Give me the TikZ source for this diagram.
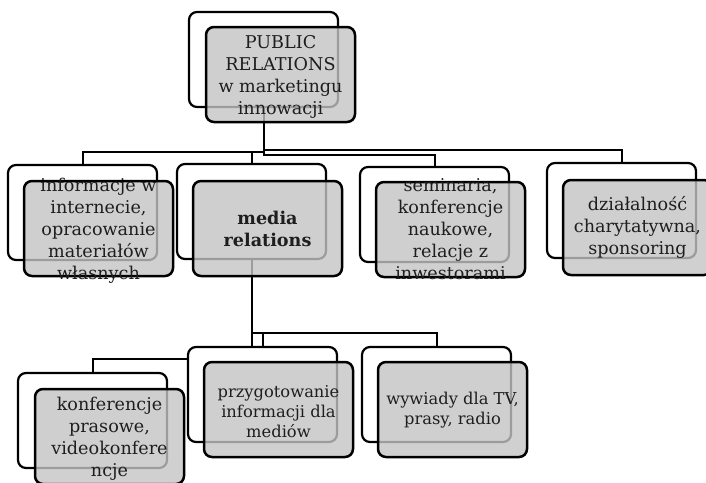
\documentclass[tikz,border=0pt]{standalone}
\usepackage{fontspec}
\setmainfont{DejaVu Serif}
\usetikzlibrary{calc}
\begin{document}
\begin{tikzpicture}[x=1pt,y=-1pt,
  conn/.style={draw=black,line width=2pt},
  backbox/.style={draw=black,line width=2.2pt,fill=white,rounded corners=8pt,minimum width=149pt,minimum height=95pt,inner sep=0pt},
  frontbox/.style={draw=black,line width=2.5pt,fill={rgb,255:red,196;green,196;blue,196},fill opacity=0.8,draw opacity=1,rounded corners=8pt,minimum width=149pt,minimum height=95pt,inner sep=0pt},
  lbl/.style={align=center,inner sep=0pt,text={rgb,255:red,30;green,30;blue,30},font=\fontsize{17.6}{22}\selectfont},
  lbls/.style={align=center,inner sep=0pt,text={rgb,255:red,30;green,30;blue,30},font=\fontsize{16.3}{20}\selectfont}]
\useasboundingbox (0,0) rectangle (706,482);
% coordinates for connector levels
\coordinate (ya) at (0,150);
\coordinate (yb) at (0,152);
\coordinate (yc) at (0,155);
\coordinate (yd) at (0,333);
\coordinate (ye) at (0,359);
% back boxes positions (named coordinates)
\coordinate (p0) at (263.5,59.5);
\coordinate (p1) at (82.5,212.5);
\coordinate (p2) at (251.5,211.5);
\coordinate (p3) at (434.5,214.5);
\coordinate (p4) at (621.5,210.5);
\coordinate (p5) at (92.5,420.5);
\coordinate (p6) at (262.5,394.5);
\coordinate (p7) at (436.5,394.5);
% invisible anchors for connectors
\node[minimum width=149pt,minimum height=95pt,inner sep=0pt] (a0) at (p0) {};
\node[minimum width=149pt,minimum height=95pt,inner sep=0pt] (a1) at (p1) {};
\node[minimum width=149pt,minimum height=95pt,inner sep=0pt] (a2) at (p2) {};
\node[minimum width=149pt,minimum height=95pt,inner sep=0pt] (a3) at (p3) {};
\node[minimum width=149pt,minimum height=95pt,inner sep=0pt] (a4) at (p4) {};
\node[minimum width=149pt,minimum height=95pt,inner sep=0pt] (a5) at (p5) {};
\node[minimum width=149pt,minimum height=95pt,inner sep=0pt] (a6) at (p6) {};
\node[minimum width=149pt,minimum height=95pt,inner sep=0pt] (a7) at (p7) {};
% connectors
\draw[conn] (a0.center) |- (a4.north |- ya) -- (a4.north);
\draw[conn] (a0.center) |- (a1.north |- yb) -- (a1.north);
\draw[conn] (a0.center) |- (a2.north |- yb) -- (a2.north);
\draw[conn] (a0.center) |- (a3.north |- yc) -- (a3.north);
\draw[conn] (a2.center) |- (a5.north |- ye) -- (a5.north);
\draw[conn] (a2.center) |- (a6.north |- yd) -- (a6.north);
\draw[conn] (a2.center) |- (a7.north |- yd) -- (a7.north);
% boxes
\node[backbox] (b0) at (p0) {};
\node[frontbox] (f0) at ($(p0)+(17,15)$) {};
\node[backbox] (b1) at (p1) {};
\node[frontbox] (f1) at ($(p1)+(16,16)$) {};
\node[backbox] (b2) at (p2) {};
\node[frontbox] (f2) at ($(p2)+(16,17)$) {};
\node[backbox] (b3) at (p3) {};
\node[frontbox] (f3) at ($(p3)+(16,15)$) {};
\node[backbox] (b4) at (p4) {};
\node[frontbox] (f4) at ($(p4)+(16,17)$) {};
\node[backbox] (b5) at (p5) {};
\node[frontbox] (f5) at ($(p5)+(17,16)$) {};
\node[backbox] (b6) at (p6) {};
\node[frontbox] (f6) at ($(p6)+(16,15)$) {};
\node[backbox] (b7) at (p7) {};
\node[frontbox] (f7) at ($(p7)+(16,15)$) {};
% texts
\node[lbl] (t0) at ($(f0.center)+(0,2)$) {PUBLIC\\RELATIONS\\w marketingu\\innowacji};
\node[lbl] (t1) at ($(f1.center)+(0,2)$) {informacje w\\internecie,\\opracowanie\\materiałów\\własnych};
\node[lbl] (t2) at (f2.center) {\bfseries media\\\bfseries relations};
\node[lbl] (t3) at (f3.center) {seminaria,\\konferencje\\naukowe,\\relacje z\\inwestorami};
\node[lbl] (t4) at (f4.center) {działalność\\charytatywna,\\sponsoring};
\node[lbl] (t5) at ($(f5.center)+(0,2)$) {konferencje\\prasowe,\\videokonfere\\ncje};
\node[lbls] (t6) at ($(f6.center)+(0,2)$) {przygotowanie\\informacji dla\\mediów};
\node[lbls] (t7) at ($(f7.center)+(0,1)$) {wywiady dla TV,\\prasy, radio};
\end{tikzpicture}
\end{document}
